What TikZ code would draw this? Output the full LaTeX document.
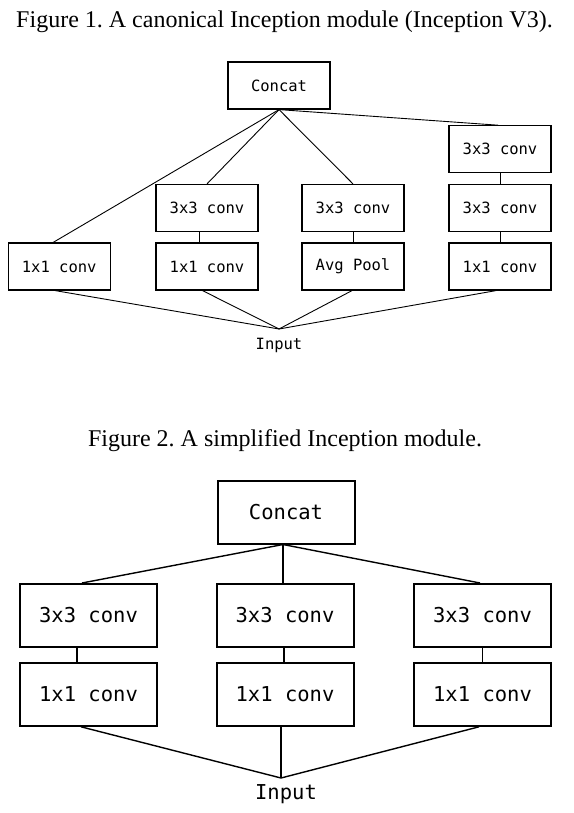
\documentclass[tikz,border=0pt]{standalone}
\usepackage{fontspec}
\setmainfont{Liberation Serif}
\newfontfamily\boxfont{DejaVu Sans Mono}
\usetikzlibrary{calc}
\frenchspacing
\begin{document}
\begin{tikzpicture}[x=1pt,y=-1pt,
  boxA/.style={draw, line width=1.2pt, minimum width=102pt, minimum height=47pt, inner sep=0pt, font=\boxfont\fontsize{15.5}{18}\selectfont},
  boxB/.style={draw, line width=2pt, minimum width=137pt, minimum height=63pt, inner sep=0pt, font=\boxfont\fontsize{20.5}{24}\selectfont},
  lineA/.style={line width=0.9pt},
  lineB/.style={line width=1.4pt},
  captxt/.style={anchor=base, inner sep=0pt, font=\fontsize{24}{28}\selectfont},
  inA/.style={anchor=base, inner sep=0pt, font=\boxfont\fontsize{15.5}{18}\selectfont},
  inB/.style={anchor=base, inner sep=0pt, font=\boxfont\fontsize{20.5}{24}\selectfont}]
\useasboundingbox[fill=white] (0,0) rectangle (573,813);

% captions
\node[captxt] (t1) at (284.5,27.3) {Figure 1. A canonical Inception module (Inception V3).};
\node[captxt] (t2) at (285,446.7) {Figure 2. A simplified Inception module.};

% Figure 1
\node[boxA] (c1) at (279,85.5) {Concat};
\node[boxA] (a1) at (59.2,266.5) {1x1 conv};
\node[boxA] (b2) at (207,208) {3x3 conv};
\node[boxA] (b1) at (207,266.5) {1x1 conv};
\node[boxA] (p2) at (353,208) {3x3 conv};
\node[boxA] (p1) at (353,266.5) {Avg Pool};
\node[boxA] (d3) at (500,149.3) {3x3 conv};
\node[boxA] (d2) at (500,208) {3x3 conv};
\node[boxA] (d1) at (500,266.5) {1x1 conv};
\node[inA] (in1) at (279,349) {Input};
\coordinate (j1) at (279,329);

\draw[lineA] (c1.south) -- ($(a1.north)+(-6,0)$);
\draw[lineA] (c1.south) -- (b2.north);
\draw[lineA] (c1.south) -- (p2.north);
\draw[lineA] (c1.south) -- ($(d3.north)+(-2,0)$);
\draw[lineA] ($(b2.south)+(-8,0)$) -- ($(b1.north)+(-8,0)$);
\draw[lineA] (p2.south) -- (p1.north);
\draw[lineA] (d3.south) -- (d2.north);
\draw[lineA] (d2.south) -- (d1.north);
\draw[lineA] ($(a1.south)+(-4,0)$) -- (j1);
\draw[lineA] ($(b1.south)+(-4.5,0)$) -- (j1);
\draw[lineA] ($(p1.south)+(-1,0)$) -- (j1);
\draw[lineA] ($(d1.south)+(-4,0)$) -- (j1);

% Figure 2
\node[boxB] (c2) at (286,512) {Concat};
\node[boxB] (e2) at (88.5,615.5) {3x3 conv};
\node[boxB] (e1) at (88.5,694.3) {1x1 conv};
\node[boxB] (f2) at (285,615.5) {3x3 conv};
\node[boxB] (f1) at (285,694.3) {1x1 conv};
\node[boxB] (g2) at (482.5,615.5) {3x3 conv};
\node[boxB] (g1) at (482.5,694.3) {1x1 conv};
\node[inB] (in2) at (286,799) {Input};
\coordinate (j2) at (281,778);

\draw[lineB] ($(c2.south)+(-3,0)$) -- ($(e2.north)+(-6.5,0)$);
\draw[lineB] ($(c2.south)+(-3,0)$) -- ($(f2.north)+(-2,0)$);
\draw[lineB] ($(c2.south)+(-3,0)$) -- ($(g2.north)+(-2.5,0)$);
\draw[lineB] ($(e2.south)+(-11.5,0)$) -- ($(e1.north)+(-11.5,0)$);
\draw[lineB] ($(f2.south)+(-1,0)$) -- ($(f1.north)+(-1,0)$);
\draw[lineB] (g2.south) -- (g1.north);
\draw[lineB] ($(e1.south)+(-7.5,0)$) -- (j2);
\draw[lineB] ($(f1.south)+(-4,0)$) -- (j2);
\draw[lineB] ($(g1.south)+(-3.5,0)$) -- (j2);
\end{tikzpicture}
\end{document}
